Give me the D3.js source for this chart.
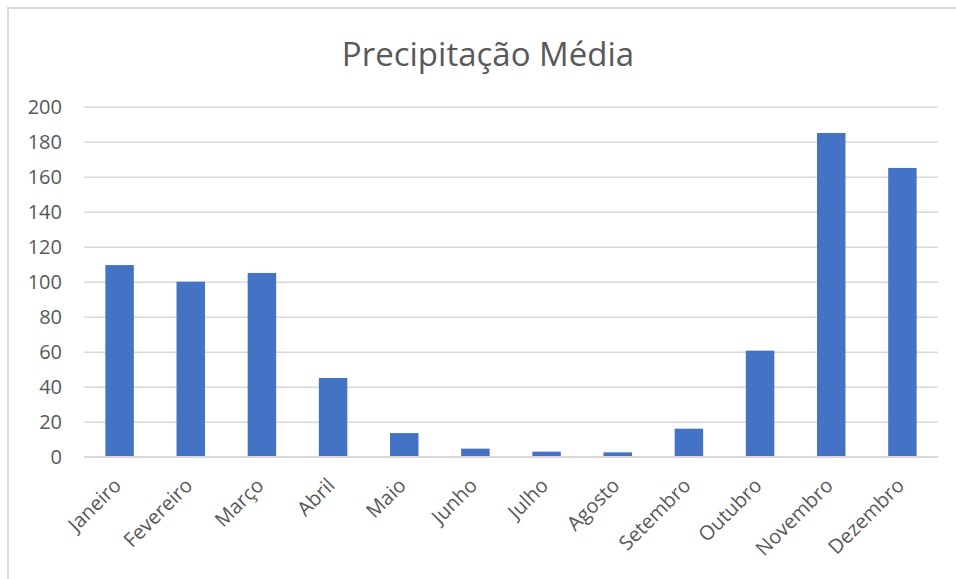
<!DOCTYPE html>
<html>
<head>
<meta charset="utf-8">
<script src="https://cdn.jsdelivr.net/npm/d3@7"></script>
<style>
  html, body { margin: 0; padding: 0; background: #fff; }
  svg { display: block; }
  text { font-family: "Open Sans", "Noto Sans", sans-serif; fill: #595959; }
</style>
</head>
<body>
<svg id="chart" width="956" height="579"></svg>
<script>
const months = ["Janeiro","Fevereiro","Março","Abril","Maio","Junho","Julho","Agosto","Setembro","Outubro","Novembro","Dezembro"];
const precipitation = [109.5, 100, 105, 45, 13.5, 4.6, 2.9, 2.5, 16, 60.6, 185, 165];
const yTicks = [0, 20, 40, 60, 80, 100, 120, 140, 160, 180, 200];
const title = "Precipitação Média";

const svg = d3.select("#chart");
const W = 956, H = 579;
const plot = { left: 84, right: 938, top: 106.7, bottom: 456.7 };

// outer border
svg.append("rect")
  .attr("x", 8).attr("y", 8)
  .attr("width", W + 20).attr("height", H + 20)
  .attr("fill", "none").attr("stroke", "#d9d9d9").attr("stroke-width", 2);

const x = d3.scaleBand().domain(months).range([plot.left, plot.right]).paddingInner(0.6).paddingOuter(0.3);
const y = d3.scaleLinear().domain([0, 200]).range([plot.bottom, plot.top]);

// gridlines
const yAxis = d3.axisLeft(y).tickValues(yTicks).tickSize(-(plot.right - plot.left)).tickPadding(22);
const gy = svg.append("g").attr("transform", `translate(${plot.left},0)`).call(yAxis);
gy.select(".domain").remove();
gy.selectAll(".tick line").attr("stroke", "#d9d9d9").attr("stroke-width", 1.5);
gy.selectAll(".tick text").attr("font-size", 20).attr("fill", "#595959")
  .style("font-family", '"Open Sans", sans-serif');

// bars
svg.append("g").selectAll("rect").data(precipitation).join("rect")
  .attr("x", (d, i) => x(months[i]))
  .attr("width", x.bandwidth())
  .attr("y", d => y(d))
  .attr("height", d => y(0) - y(d))
  .attr("fill", "#4472c4");

// baseline redraw on top
svg.append("line").attr("x1", plot.left).attr("x2", plot.right)
  .attr("y1", y(0)).attr("y2", y(0)).attr("stroke", "#d9d9d9").attr("stroke-width", 1.5);

// x axis labels
const xAxis = d3.axisBottom(x).tickSize(0).tickPadding(0);
const gx = svg.append("g").attr("transform", `translate(0,${plot.bottom})`).call(xAxis);
gx.select(".domain").remove();
gx.selectAll(".tick text")
  .attr("font-size", 20).attr("fill", "#595959")
  .style("font-family", '"Open Sans", sans-serif')
  .attr("text-anchor", "end")
  .attr("dy", null).attr("y", 0)
  .attr("transform", "translate(3,30) rotate(-45)");

// title
svg.append("text").attr("x", 488).attr("y", 66)
  .attr("text-anchor", "middle").attr("font-size", 33).attr("fill", "#595959")
  .text(title);
</script>
</body>
</html>
